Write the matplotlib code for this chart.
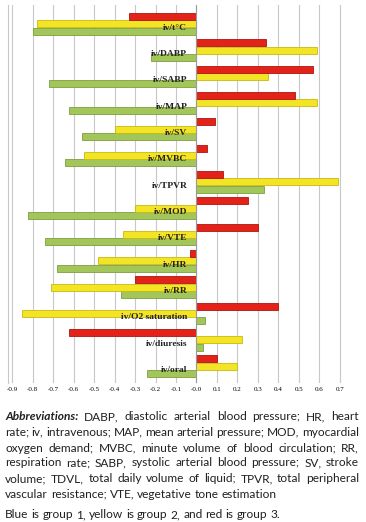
import numpy as np
from matplotlib import pyplot as plt

categories = ["iv/t\u00b0C", "iv/DABP", "iv/SABP", "iv/MAP", "iv/SV", "iv/MVBC", "iv/TPVR",
              "iv/MOD", "iv/VTE", "iv/HR", "iv/RR", "iv/O2 saturation", "iv/diuresis", "iv/oral"]
group1 = [-0.80, -0.22, -0.72, -0.62, -0.56, -0.64, 0.33, -0.82, -0.74, -0.68, -0.37, 0.04, 0.03, -0.24]
group2 = [-0.78, 0.59, 0.35, 0.59, -0.40, -0.55, 0.69, -0.30, -0.36, -0.48, -0.71, -0.85, 0.22, 0.20]
group3 = [-0.33, 0.34, 0.57, 0.48, 0.09, 0.05, 0.13, 0.25, 0.30, -0.03, -0.30, 0.40, -0.62, 0.10]
xticks = np.round(np.arange(-0.9, 0.71, 0.1), 1)

lines = [
    [("Abbreviations:", "bold", "italic"), "DABP, diastolic arterial blood pressure; HR, heart"],
    "rate; iv, intravenous; MAP, mean arterial pressure; MOD, myocardial",
    "oxygen demand; MVBC, minute volume of blood circulation; RR,",
    "respiration rate; SABP, systolic arterial blood pressure; SV, stroke",
    "volume; TDVL, total daily volume of liquid; TPVR, total peripheral",
    "vascular resistance; VTE, vegetative tone estimation",
    "Blue is group 1, yellow is group 2, and red is group 3.",
]
justified = [True, True, True, True, True, False, False]
line_y = [417, 432, 448, 463, 479, 494, 515]


def main():
    W, H = 366, 522
    fig = plt.figure(figsize=(W / 100, H / 100), dpi=100)
    ax = fig.add_axes([8 / W, 1 - 383 / H, 336 / W, 378 / H])

    y = np.arange(len(categories))
    h = 0.27
    off = 0.28
    cols = [("#a3c65a", "#7f9e3e"), ("#f3e526", "#c9b90e"), ("#e32219", "#b0140e")]
    for vals, dy, (c, ec) in zip([group1, group2, group3], [off, 0, -off], cols):
        ax.barh(y + dy, vals, height=h, color=c, edgecolor=ec, linewidth=0.6, zorder=3)

    for i, name in enumerate(categories):
        ax.text(-0.045, i + 0.14, name, ha="right", va="center", fontsize=6.8,
                fontweight="bold", family="Liberation Serif", color="#222222", zorder=5)

    ax.axvline(0, color="#9a9a9a", lw=0.8, zorder=4)
    ax.set_xlim(-0.92, 0.72)
    ax.set_ylim(13.64, -0.715)
    ax.set_xticks(xticks)
    ax.set_xticklabels(["%.1f" % t for t in xticks], family="Liberation Serif", fontsize=5)
    ax.tick_params(axis="x", length=0, pad=3)
    ax.set_yticks([])
    ax.grid(axis="x", color="#c8c8c8", lw=0.8, zorder=0)
    for s in ax.spines.values():
        s.set_visible(False)
    ax.plot([-0.92, -0.92], [13.64, -0.715], color="#c8c8c8", lw=0.8, clip_on=False)

    # caption text, justified like the journal page
    renderer = fig.canvas.get_renderer()
    x0, x1 = 5, 359
    fs = 8.6
    fam = "Lato"
    sp1 = fig.text(0, 0, "a b", fontsize=fs, family=fam)
    sp2 = fig.text(0, 0, "ab", fontsize=fs, family=fam)
    space = sp1.get_window_extent(renderer).width - sp2.get_window_extent(renderer).width
    sp1.remove()
    sp2.remove()
    for line, just, ly in zip(lines, justified, line_y):
        parts = []
        if isinstance(line, list):
            for p in line:
                if isinstance(p, tuple):
                    parts.append(p)
                else:
                    parts += [(w, "normal", "normal") for w in p.split()]
        else:
            parts = [(w, "normal", "normal") for w in line.split()]
        texts = []
        for w, wt, st in parts:
            t = fig.text(0, 1 - ly / H, w, fontsize=fs, family=fam, fontweight=wt,
                         style=st, va="center", ha="left", color="#231f20")
            texts.append(t)
        widths = [t.get_window_extent(renderer).width for t in texts]
        if just and len(texts) > 1:
            gap = max((x1 - x0 - sum(widths)) / (len(texts) - 1), space * 0.6)
        else:
            gap = space
        x = x0
        for t, wd in zip(texts, widths):
            t.set_x(x / W)
            x += wd + gap

    fig.savefig("out.png", dpi=100)


if __name__ == '__main__':
    main()
